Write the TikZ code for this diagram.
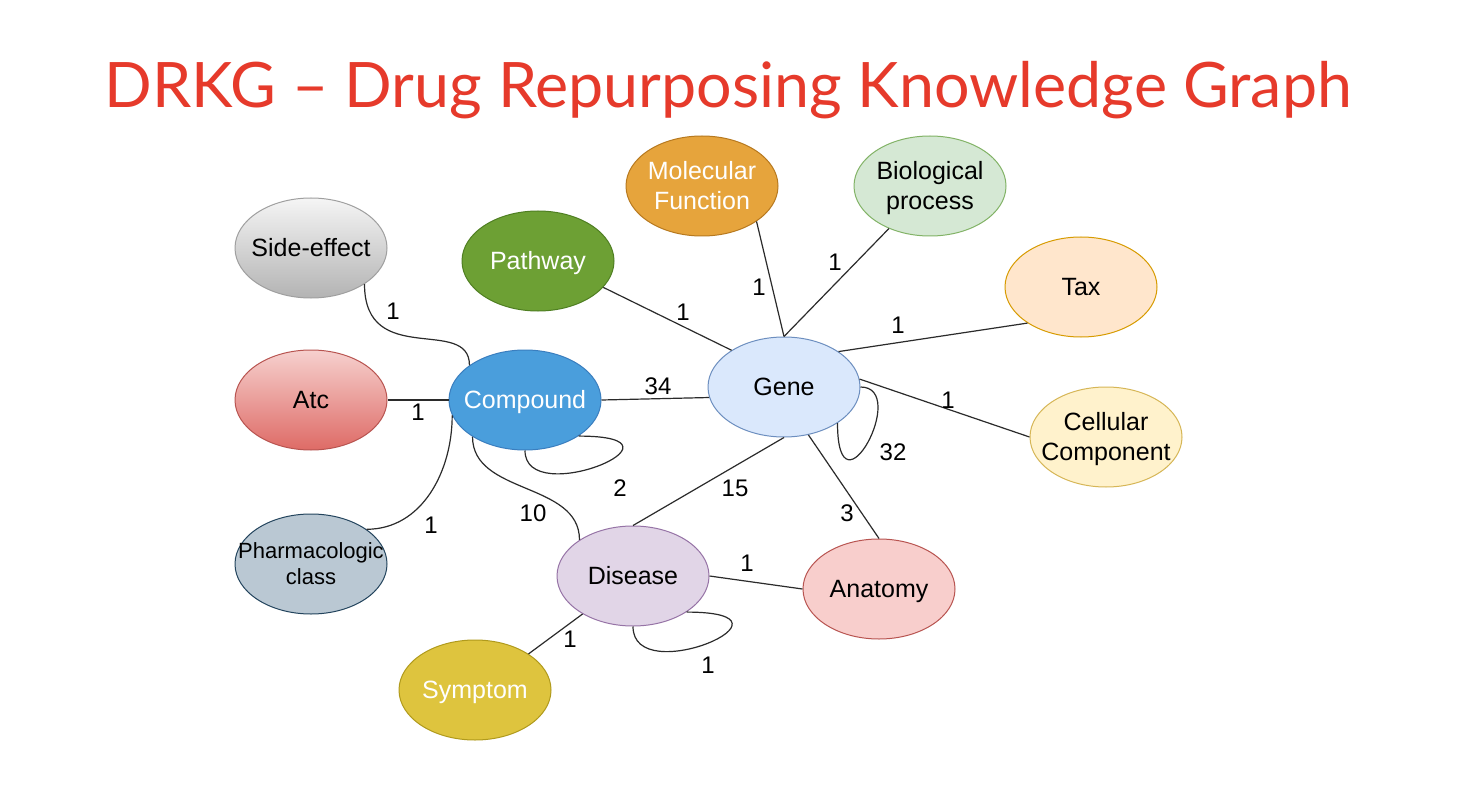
\documentclass[tikz,border=0pt]{standalone}
\usepackage{fontspec}
\setmainfont{Liberation Sans}
\newfontfamily\titlefont{Lato}
\usetikzlibrary{shapes.geometric}

\definecolor{titlered}{HTML}{E63A2B}
\definecolor{linkgray}{HTML}{2B2B2B}
\definecolor{cmpblue}{HTML}{4A9EDC}
\definecolor{cmpborder}{HTML}{3A7EBF}
\definecolor{pwgreen}{HTML}{6DA034}
\definecolor{pwborder}{HTML}{4F7F22}
\definecolor{mforange}{HTML}{E6A43C}
\definecolor{mfborder}{HTML}{B7791F}
\definecolor{symyellow}{HTML}{DEC43E}
\definecolor{symborder}{HTML}{B09A1C}
\definecolor{setop}{HTML}{F5F5F5}
\definecolor{sebottom}{HTML}{B3B3B3}
\definecolor{atctop}{HTML}{F6D0CE}
\definecolor{atcbottom}{HTML}{DE6B66}
\definecolor{redborder}{HTML}{B85450}
\definecolor{genefill}{HTML}{DAE8FC}
\definecolor{geneborder}{HTML}{6C8EBF}
\definecolor{bpfill}{HTML}{D5E8D4}
\definecolor{bpborder}{HTML}{82B366}
\definecolor{taxfill}{HTML}{FFE6CC}
\definecolor{taxborder}{HTML}{D79B00}
\definecolor{ccfill}{HTML}{FFF2CC}
\definecolor{ccborder}{HTML}{D6B656}
\definecolor{pcfill}{HTML}{BAC8D3}
\definecolor{pcborder}{HTML}{23445D}
\definecolor{disfill}{HTML}{E1D5E7}
\definecolor{disborder}{HTML}{9673A6}
\definecolor{anafill}{HTML}{F8CECC}

% text that does not widen its ellipse
\newcommand{\etxt}[1]{\makebox[0pt]{\raisebox{-2.5pt}[\height][\depth]{\begin{tabular}{@{}c@{}}#1\end{tabular}}}}

\begin{document}
\begin{tikzpicture}[
    x=1pt, y=-1pt,
    entity/.style={ellipse, draw, line width=1pt, minimum width=152pt,
        minimum height=100pt, inner sep=0pt,
        font=\fontsize{25}{30}\selectfont},
    link/.style={draw=linkgray, line width=1.2pt},
    count/.style={font=\fontsize{24}{28}\selectfont}
]
    \useasboundingbox[fill=white] (0,0) rectangle (1466,810);

    % Title
    \node[text=titlered, font=\titlefont\fontsize{62.7}{70}\selectfont] (title) at (728,90) {DRKG – Drug Repurposing Knowledge Graph};

    % Entity types
    \node[entity, top color=setop, bottom color=sebottom, draw=gray!75] (se) at (311,248) {\etxt{Side-effect}};
    \node[entity, fill=pwgreen, draw=pwborder, text=white] (pw) at (538,261) {\etxt{Pathway}};
    \node[entity, fill=mforange, draw=mfborder, text=white] (mf) at (702,186) {\etxt{Molecular\\Function}};
    \node[entity, fill=bpfill, draw=bpborder] (bp) at (930,186) {\etxt{Biological\\process}};
    \node[entity, fill=taxfill, draw=taxborder] (tax) at (1081,287) {\etxt{Tax}};
    \node[entity, top color=atctop, bottom color=atcbottom, draw=redborder] (atc) at (311,400) {\etxt{Atc}};
    \node[entity, fill=cmpblue, draw=cmpborder, text=white] (cmp) at (525,400) {\etxt{Compound}};
    \node[entity, fill=genefill, draw=geneborder] (gene) at (784,387) {\etxt{Gene}};
    \node[entity, fill=ccfill, draw=ccborder] (cc) at (1106,437) {\etxt{Cellular\\Component}};
    \node[entity, fill=pcfill, draw=pcborder, font=\fontsize{22}{26}\selectfont] (pc) at (311,564) {\etxt{Pharmacologic\\class}};
    \node[entity, fill=disfill, draw=disborder] (dis) at (633,576) {\etxt{Disease}};
    \node[entity, fill=anafill, draw=redborder] (ana) at (879,589) {\etxt{Anatomy}};
    \node[entity, fill=symyellow, draw=symborder, text=white] (sym) at (475,690) {\etxt{Symptom}};

    % Relations
    \draw[link] (se.-34) .. controls +(0,85) and +(0,-50) .. (cmp.148);
    \draw[link] (atc.east) -- (cmp.west);
    \draw[link] (cmp.-168) to[out=-90, in=0] (pc.32);
    \draw[link] (cmp.-145) to[out=-90, in=90] (dis.146);
    \draw[link] (cmp.south) .. controls +(0,60) and +(125,0) .. (cmp.-34);
    \draw[link] (cmp.east) -- (gene.188);
    \draw[link] (pw.-22) -- (gene.145);
    \draw[link] (mf.-33) -- (gene.north);
    \draw[link] (bp.-134) -- (gene.north);
    \draw[link] (tax.-146) -- (gene.33);
    \draw[link] (cc.west) -- (gene.6);
    \draw[link] (gene.east) .. controls +(50,0) and +(0,100) .. (gene.-34);
    \draw[link] (gene.south) -- (dis.north);
    \draw[link] (gene.-63) -- (ana.north);
    \draw[link] (dis.east) -- (ana.west);
    \draw[link] (dis.-143) -- (sym.34);
    \draw[link] (dis.-34) .. controls +(128,0) and +(0,64) .. (dis.south);

    % Relation counts
    \node[count] (n-se) at (393,311) {1};
    \node[count] (n-atc) at (418,412) {1};
    \node[count] (n-pc) at (431,525) {1};
    \node[count] (n-cd) at (533,513) {10};
    \node[count] (n-cc) at (620,488) {2};
    \node[count] (n-cg) at (658,386) {34};
    \node[count] (n-pw) at (683,312) {1};
    \node[count] (n-mf) at (759,287) {1};
    \node[count] (n-bp) at (835,262) {1};
    \node[count] (n-tax) at (898,325) {1};
    \node[count] (n-ccomp) at (948,400) {1};
    \node[count] (n-gg) at (893,452) {32};
    \node[count] (n-gd) at (735,488) {15};
    \node[count] (n-ga) at (847,513) {3};
    \node[count] (n-da) at (747,563) {1};
    \node[count] (n-ds) at (570,639) {1};
    \node[count] (n-dd) at (708,665) {1};
\end{tikzpicture}
\end{document}
